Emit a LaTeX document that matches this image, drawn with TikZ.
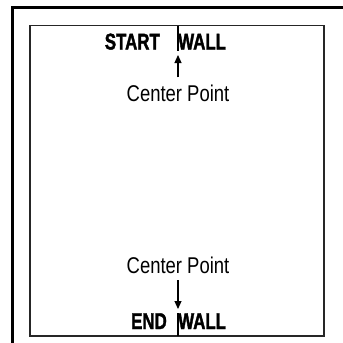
\documentclass[tikz,border=0pt]{standalone}
\usepackage{fontspec}
\usetikzlibrary{arrows.meta}
\newfontfamily\cpfont{Liberation Sans}[FakeStretch=0.81]
\newfontfamily\wallfont{Liberation Sans Bold}[FakeStretch=0.74,FakeBold=1.6]
\tikzset{
  cplabel/.style={font=\cpfont\fontsize{22.8}{22.8}\selectfont, inner xsep=0pt, inner ysep=7pt},
  walllabel/.style={font=\wallfont\fontsize{22.8}{22.8}\selectfont, inner sep=0pt},
  ptr/.style={line width=1.2pt, -{Triangle[length=8pt,width=7pt]}},
  tick/.style={line width=1.5pt},
}
\begin{document}
\begin{tikzpicture}[x=1pt,y=-1pt]
\useasboundingbox (0,0) rectangle (343,343);
\clip (0,0) rectangle (343,343);
\fill[white] (0,0) rectangle (343,343);
% outer frame
\draw[line width=3pt] (12.5,7.5) rectangle (360,360);
% inner frame
\draw[line width=1.5pt, black!85] (30,25.5) rectangle (324,336);
% top
\node[walllabel, anchor=base east] (start) at (160,49.5) {START};
\node[walllabel, anchor=base west] (wall1) at (178,49.5) {WALL};
\coordinate (tt) at (178,25.5);
\coordinate (tb) at (178,51);
\draw[tick] (tt) -- (tb);
\node[cplabel, anchor=base] (cp1) at (178,101) {Center Point};
\coordinate (a1) at (178,55);
\draw[ptr] (cp1.north) -- (a1);
% bottom
\node[cplabel, anchor=base] (cp2) at (178,273) {Center Point};
\coordinate (a2) at (178,309);
\draw[ptr] (cp2.south) -- (a2);
\node[walllabel, anchor=base east] (endw) at (167,329) {END};
\node[walllabel, anchor=base west] (wall2) at (178,329) {WALL};
\coordinate (bt) at (178,313);
\coordinate (bb) at (178,336);
\draw[tick] (bt) -- (bb);
\end{tikzpicture}
\end{document}
